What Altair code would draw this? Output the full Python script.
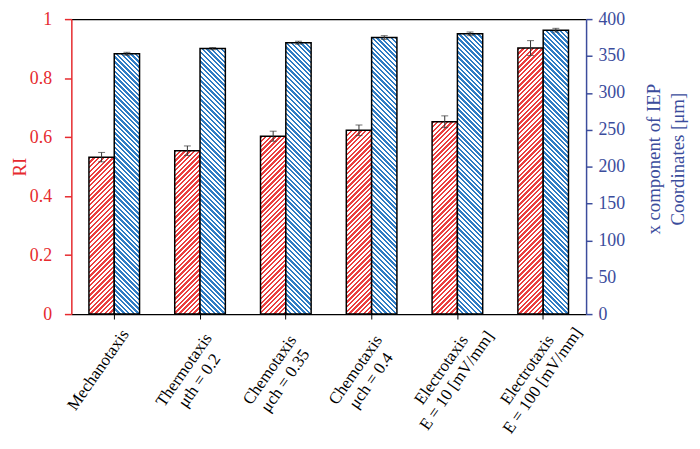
import altair as alt
import pandas as pd

# ---- data ----
categories = [
    "Mechanotaxis",
    "Thermotaxis|μth = 0.2",
    "Chemotaxis|μch = 0.35",
    "Chemotaxis|μch = 0.4",
    "Electrotaxis|E = 10 [mV/mm]",
    "Electrotaxis|E = 100 [mV/mm]",
]
ri_values = [0.532, 0.554, 0.603, 0.623, 0.652, 0.902]
ri_errors = [0.016, 0.016, 0.017, 0.018, 0.020, 0.025]
iep_values = [353, 360, 368, 375, 380, 385]
iep_errors = [2.0, 1.5, 2.0, 2.5, 2.5, 2.5]
series_names = ["RI", "IEP"]

rows = []
for i, c in enumerate(categories):
    rows.append({"cat": c, "idx": i, "series": "RI", "value": ri_values[i],
                 "lo": ri_values[i] - ri_errors[i], "hi": ri_values[i] + ri_errors[i]})
    rows.append({"cat": c, "idx": i, "series": "IEP", "value": iep_values[i],
                 "lo": iep_values[i] - iep_errors[i], "hi": iep_values[i] + iep_errors[i]})
df = pd.DataFrame(rows)

# ---- style ----
W, H = 520, 298
PAD_IN, PAD_OUT = 0.41, 0.205
RED_AX = "#e62a2e"
BLUE_AX = "#3b4c9c"
RED_ST = "#ea3f3f"
BLUE_ST = "#2f7cc4"
FONT = "Liberation Serif"
FS = 18

step = W / (len(categories) - PAD_IN + 2 * PAD_OUT)
bar_w = step * (1 - PAD_IN) / 2


def stripes(h, color, up):
    w = bar_w
    L = w + h
    c = L / (w * w + h * h)
    period = 4.8
    n = int(L / period) + 1
    stops = []
    for k in range(n):
        a = min(k * period / L, 1.0)
        b = min((k + 0.5) * period / L, 1.0)
        e = min((k + 1) * period / L, 1.0)
        stops += [{"offset": a, "color": color}, {"offset": b, "color": color},
                  {"offset": b, "color": "#ffffff"}, {"offset": e, "color": "#ffffff"}]
    if up:
        return alt.LinearGradient(gradient="linear", x1=0, y1=0, x2=c * w, y2=c * h, stops=stops)
    return alt.LinearGradient(gradient="linear", x1=0, y1=1, x2=c * w, y2=1 - c * h, stops=stops)


xscale = alt.Scale(domain=categories, paddingInner=PAD_IN, paddingOuter=PAD_OUT)
xoff = alt.XOffset("series:N", scale=alt.Scale(domain=series_names, paddingInner=0, paddingOuter=0))

x_bottom_axis = alt.Axis(
    title=None, orient="bottom", labelAngle=305, labelAlign="center", labelBaseline="middle",
    labelExpr="split(datum.label, '|')", labelFont=FONT, labelFontSize=17, labelColor="black",
    labelLineHeight=19, labelPadding=51, labelOffset=-16, labelLimit=400, tickSize=5,
    tickColor="black", domainColor="black", domainWidth=1.2, labelOverlap=False, zindex=1,
)
x_top_axis = alt.Axis(
    title=None, orient="top", labels=False, ticks=False, domainColor="black", domainWidth=1.2, zindex=1,
)

left_axis = alt.Axis(
    title="RI", orient="left", values=[0, 0.2, 0.4, 0.6, 0.8, 1], format="~g", grid=False,
    domainColor=RED_AX, domainWidth=1.5, tickColor=RED_AX, tickSize=7, tickWidth=1.5,
    labelColor=RED_AX, labelFont=FONT, labelFontSize=FS, labelPadding=13,
    titleColor=RED_AX, titleFont=FONT, titleFontSize=FS + 1, titleFontWeight="normal",
    titlePadding=0, zindex=2,
)
right_axis = alt.Axis(
    title=["x component of IEP", "Coordinates [μm]"], orient="right",
    values=list(range(0, 401, 50)), grid=False,
    domainColor=BLUE_AX, domainWidth=1.5, tickColor=BLUE_AX, tickSize=6, tickWidth=1.5,
    labelColor=BLUE_AX, labelFont=FONT, labelFontSize=FS, labelPadding=6,
    titleColor=BLUE_AX, titleFont=FONT, titleFontSize=FS + 1, titleFontWeight="normal",
    titleAngle=270, titleBaseline="top", titleX=59, titleY=H / 2 - 8, titleLineHeight=24, zindex=2,
)

red_scale = alt.Scale(domain=[0, 1], nice=False)
blue_scale = alt.Scale(domain=[0, 400], nice=False)


def series_layers(series, values, scale, yaxis, xaxis, color, up, ymax):
    layers = []
    for i, v in enumerate(values):
        h = v / ymax * H
        layers.append(
            alt.Chart(df)
            .transform_filter(f"datum.series == '{series}' && datum.idx == {i}")
            .mark_bar(fill=stripes(h, color, up), stroke="black", strokeWidth=1.5)
            .encode(
                x=alt.X("cat:N", scale=xscale, axis=xaxis, sort=categories),
                xOffset=xoff,
                y=alt.Y("value:Q", scale=scale, axis=yaxis),
            )
        )
    err_base = alt.Chart(df).transform_filter(f"datum.series == '{series}'")
    layers.append(
        err_base.mark_rule(color="#333333", strokeWidth=1).encode(
            x=alt.X("cat:N", scale=xscale, axis=xaxis, sort=categories),
            xOffset=xoff,
            y=alt.Y("lo:Q", scale=scale, axis=yaxis),
            y2="hi:Q",
        )
    )
    for fld in ["lo", "hi"]:
        layers.append(
            err_base.mark_tick(color="#333333", size=7, thickness=1).encode(
                x=alt.X("cat:N", scale=xscale, axis=xaxis, sort=categories),
                xOffset=xoff,
                y=alt.Y(f"{fld}:Q", scale=scale, axis=yaxis),
            )
        )
    return alt.layer(*layers)


red_layer = series_layers("RI", ri_values, red_scale, left_axis, x_bottom_axis, RED_ST, True, 1.0)
blue_layer = series_layers("IEP", iep_values, blue_scale, right_axis, x_top_axis, BLUE_ST, False, 400.0)

chart = (
    alt.layer(red_layer, blue_layer)
    .resolve_scale(y="independent")
    .resolve_axis(x="independent")
    .properties(
        width=W, height=H,
        autosize=alt.AutoSizeParams(type="none"),
        padding={"left": 64, "top": 9, "right": 107, "bottom": 126},
    )
    .configure_view(stroke=None)
)

chart.save("out.html", embed_options={"renderer": "svg", "actions": False})
